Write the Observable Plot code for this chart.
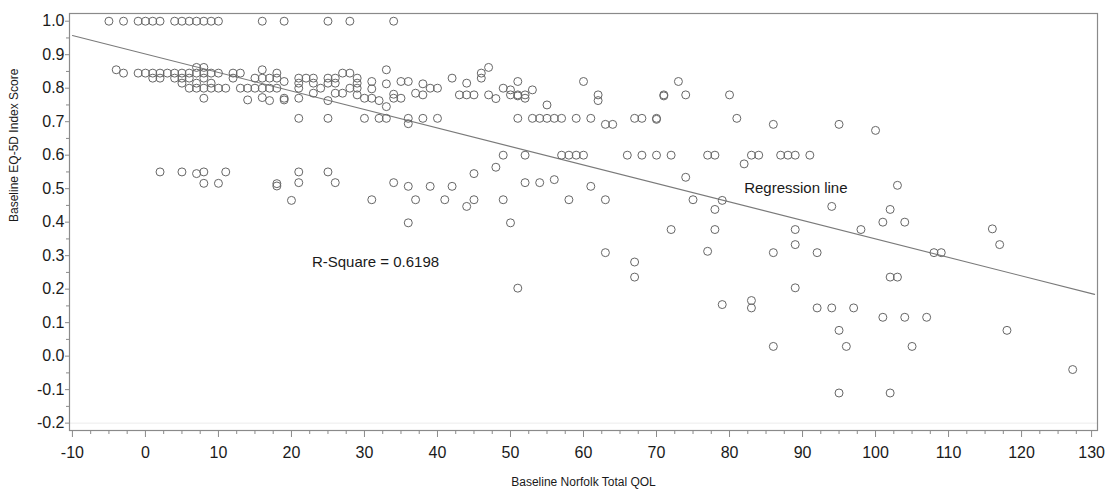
<!DOCTYPE html>
<html>
<head>
<meta charset="utf-8">
<script src="https://cdn.jsdelivr.net/npm/d3@7"></script>
<script src="https://cdn.jsdelivr.net/npm/@observablehq/plot@0.6"></script>
<style>
  html, body { margin: 0; padding: 0; background: #fff; }
  #chart svg { display: block; }
</style>
</head>
<body>
<div id="chart"></div>
<script>
// Baseline Norfolk Total QOL (x) and Baseline EQ-5D Index Score (y), one entry per patient
const qol = [
  -5, -3, -1, 0, 1, 2, 4, 5, 6, 7, 8, 9, 10, 16, 19, 25, 28, 34,
  -4, -3, -1, 0, 1, 2, 3, 4, 5, 6, 7, 8, 9, 10,
  7, 8, 12, 13, 16, 18, 27, 28, 33, 46, 47,
  1, 2, 4, 5, 6, 8, 12, 15, 16, 17, 18, 21, 22, 23, 25, 26, 29, 42, 46,
  5, 7, 9, 19, 21, 23, 25, 26, 29, 31, 33, 35, 36, 38, 44, 51, 60, 73,
  6, 7, 8, 9, 10, 11, 13, 14, 15, 16, 17, 18, 21, 24, 28, 29, 31, 39, 40, 49, 50, 53,
  23, 26, 27, 29, 34, 37, 38, 43, 44, 45, 47, 50, 51, 51, 52, 62, 71, 71, 74, 80,
  8, 14, 16, 17, 19, 19, 21, 25, 30, 31, 32, 34, 35, 48, 52, 62,
  33, 55,
  21, 25, 30, 32, 33, 36, 38, 40, 51, 53, 54, 55, 56, 57, 59, 61, 67, 68, 70, 70, 81,
  36, 63, 64, 86, 95, 100,
  49, 52, 57, 58, 59, 60, 66, 68, 70, 72, 77, 78, 83, 84, 87, 88, 89, 91,
  82, 48,
  2, 5, 7, 8, 11, 21, 25, 45,
  8, 10, 18, 18, 21, 26, 34, 52, 54, 56, 74, 103,
  36, 39, 42, 61,
  20, 31, 37, 41, 45, 49, 58, 63, 75, 79,
  44, 94, 78, 102,
  36, 50, 101, 104,
  72, 78, 89, 98, 116,
  89, 117,
  63, 77, 86, 92, 108, 109,
  67, 67, 102, 103,
  51, 89, 83, 79, 83, 92, 94, 97,
  101, 104, 107, 95, 118, 86, 96, 105, 127, 95, 102
];
const eq5d = [
  1, 1, 1, 1, 1, 1, 1, 1, 1, 1, 1, 1, 1, 1, 1, 1, 1, 1,
  0.855, 0.845, 0.845, 0.845, 0.845, 0.845, 0.845, 0.845, 0.845, 0.845, 0.845, 0.845, 0.845, 0.845,
  0.862, 0.862, 0.845, 0.845, 0.855, 0.845, 0.845, 0.845, 0.855, 0.845, 0.862,
  0.83, 0.83, 0.83, 0.83, 0.83, 0.83, 0.83, 0.83, 0.83, 0.83, 0.83, 0.83, 0.83, 0.83, 0.83, 0.83, 0.83, 0.83, 0.83,
  0.815, 0.815, 0.815, 0.82, 0.815, 0.815, 0.815, 0.815, 0.815, 0.82, 0.813, 0.82, 0.82, 0.813, 0.815, 0.82, 0.82, 0.82,
  0.8, 0.8, 0.8, 0.8, 0.8, 0.8, 0.8, 0.8, 0.8, 0.8, 0.8, 0.8, 0.8, 0.8, 0.8, 0.8, 0.798, 0.8, 0.8, 0.8, 0.795, 0.795,
  0.785, 0.785, 0.785, 0.78, 0.782, 0.785, 0.78, 0.78, 0.78, 0.78, 0.78, 0.78, 0.78, 0.777, 0.78, 0.78, 0.78, 0.777, 0.78, 0.78,
  0.77, 0.765, 0.772, 0.763, 0.77, 0.765, 0.77, 0.763, 0.77, 0.77, 0.763, 0.77, 0.77, 0.769, 0.77, 0.763,
  0.745, 0.75,
  0.71, 0.71, 0.71, 0.71, 0.71, 0.71, 0.71, 0.71, 0.71, 0.71, 0.71, 0.71, 0.71, 0.71, 0.71, 0.71, 0.71, 0.71, 0.71, 0.707, 0.71,
  0.694, 0.692, 0.692, 0.692, 0.692, 0.674,
  0.6, 0.6, 0.6, 0.6, 0.6, 0.6, 0.6, 0.6, 0.6, 0.6, 0.6, 0.6, 0.6, 0.6, 0.6, 0.6, 0.6, 0.6,
  0.574, 0.564,
  0.55, 0.55, 0.545, 0.55, 0.55, 0.55, 0.55, 0.545,
  0.516, 0.516, 0.515, 0.508, 0.518, 0.518, 0.518, 0.518, 0.518, 0.527, 0.534, 0.51,
  0.507, 0.507, 0.507, 0.507,
  0.465, 0.467, 0.467, 0.467, 0.467, 0.467, 0.467, 0.467, 0.467, 0.465,
  0.447, 0.447, 0.438, 0.438,
  0.398, 0.398, 0.4, 0.4,
  0.378, 0.378, 0.378, 0.378, 0.38,
  0.333, 0.333,
  0.309, 0.313, 0.309, 0.309, 0.309, 0.309,
  0.281, 0.236, 0.236, 0.236,
  0.203, 0.204, 0.166, 0.154, 0.144, 0.144, 0.144, 0.144,
  0.116, 0.116, 0.116, 0.077, 0.077, 0.029, 0.029, 0.029, -0.04, -0.11, -0.11
];

// Fitted regression line
const regIntercept = 0.902;
const regSlope = -0.00552;

// Axis ticks
const xTicks = [-10, 0, 10, 20, 30, 40, 50, 60, 70, 80, 90, 100, 110, 120, 130];
const yTicks = [-0.2, -0.1, 0.0, 0.1, 0.2, 0.3, 0.4, 0.5, 0.6, 0.7, 0.8, 0.9, 1.0];

// Texts
const xTitle = "Baseline Norfolk Total QOL";
const yTitle = "Baseline EQ-5D Index Score";
const notes = [
  {text: "R-Square = 0.6198", x: 22.8, y: 0.28},
  {text: "Regression line", x: 82.0, y: 0.502}
];

const data = qol.map((x, i) => ({x, y: eq5d[i]}));
const xMinor = xTicks.slice(0, -1).flatMap(t => [t + 2.5, t + 5, t + 7.5]);
const yMinor = yTicks.slice(0, -1).map(t => +(t + 0.05).toFixed(2));
const regEnds = [xTicks[0], xTicks[xTicks.length - 1]];
const xTicksInner = xTicks.slice(0, -1);
const xTickLast = xTicks.slice(-1);

const axisGray = "#8a8a8a";
const textColor = "#1a1a1a";

const chart = Plot.plot({
  width: 1105,
  height: 493,
  marginLeft: 69,
  marginRight: 8,
  marginTop: 13,
  marginBottom: 63,
  x: {domain: [-10.4, 130.4]},
  y: {domain: [-0.222, 1.023]},
  style: {fontFamily: "Arial, 'Liberation Sans', Helvetica, sans-serif", background: "#fff", color: textColor},
  marks: [
    Plot.ruleY([yTicks[0]], {stroke: "#ececec", strokeWidth: 1}),
    Plot.frame({stroke: axisGray, strokeWidth: 1.2}),
    Plot.axisX({ticks: xMinor, tickSize: 4, tickFormat: () => "", label: null, stroke: axisGray}),
    Plot.axisX({ticks: xTicksInner, tickSize: 7, tickPadding: 9, fontSize: 16, tickFormat: d => String(d), label: null, stroke: axisGray, fill: textColor}),
    Plot.axisX({ticks: xTickLast, tickSize: 7, tickPadding: 9, fontSize: 16, dx: -3, tickFormat: d => String(d), label: null, stroke: axisGray, fill: textColor}),
    Plot.axisY({ticks: yMinor, tickSize: 3, tickFormat: () => "", label: null, stroke: axisGray}),
    Plot.axisY({ticks: yTicks, tickSize: 4, tickPadding: 1, fontSize: 16, tickFormat: d => d.toFixed(1), label: null, stroke: axisGray, fill: textColor}),
    Plot.line(regEnds, {x: d => d, y: d => regIntercept + regSlope * d, stroke: "#7a7a7a", strokeWidth: 1.1}),
    Plot.dot(data, {x: "x", y: "y", r: 4, stroke: "#666", strokeWidth: 1, fill: "none"}),
    Plot.text(notes, {x: "x", y: "y", text: "text", textAnchor: "start", fontSize: 15, fill: textColor}),
    Plot.text([yTitle], {text: d => d, frameAnchor: "left", dx: -55, rotate: -90, fontSize: 12, fill: textColor}),
    Plot.text([xTitle], {text: d => d, frameAnchor: "bottom", dy: 55, fontSize: 12, fill: textColor})
  ]
});
document.getElementById("chart").appendChild(chart);
</script>
</body>
</html>
